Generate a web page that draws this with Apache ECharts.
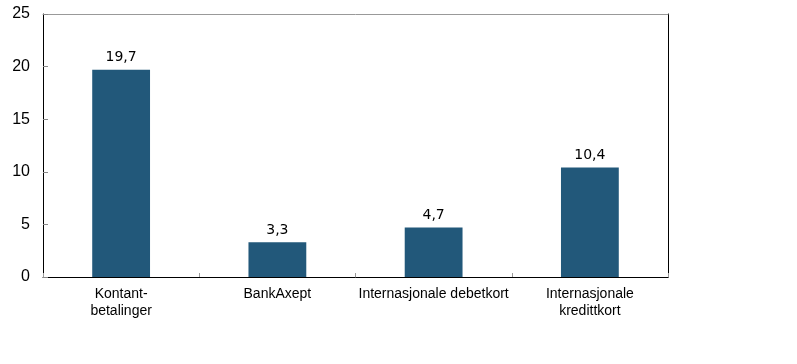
<!DOCTYPE html>
<html><head><meta charset="utf-8">
<script src="https://cdn.jsdelivr.net/npm/echarts@6/dist/echarts.min.js"></script>
<style>html,body{margin:0;padding:0;background:#fff}#c{width:797px;height:364px}</style>
</head><body><div id="c"></div>
<script>
const categories = ['Kontant-\nbetalinger', 'BankAxept', 'Internasjonale debetkort', 'Internasjonale\nkredittkort'];
const values = [19.7, 3.3, 4.7, 10.4];
const yTicks = [0, 5, 10, 15, 20, 25];

const chart = echarts.init(document.getElementById('c'));
chart.setOption({
  animation: false,
  grid: { left: 43, right: 129, top: 14, bottom: 87, containLabel: false },
  xAxis: [{
    type: 'category', data: categories,
    axisLine: { onZero: false, lineStyle: { color: '#000', width: 1 } },
    axisTick: { show: true, inside: true, length: 4, lineStyle: { color: '#999' } },
    axisLabel: { color: '#000', fontFamily: 'Liberation Sans, Arial', fontSize: 14, lineHeight: 17, margin: 9, interval: 0 }
  }, {
    type: 'category', data: categories, position: 'top',
    axisLine: { show: true, onZero: false, lineStyle: { color: '#999' } }, axisTick: { show: false }, axisLabel: { show: false }
  }],
  yAxis: [{
    type: 'value', min: 0, max: 25, interval: 5,
    axisLine: { show: true, onZero: false, lineStyle: { color: '#000' } },
    axisTick: { show: true, inside: true, length: 5, lineStyle: { color: '#888' } },
    splitLine: { show: false },
    axisLabel: { color: '#000', fontFamily: 'Liberation Sans, Arial', fontSize: 16, margin: 13,
      formatter: v => yTicks.includes(v) ? String(v) : '' }
  }, {
    type: 'value', min: 0, max: 25, interval: 5, position: 'right',
    axisLine: { show: true, onZero: false, lineStyle: { color: '#000' } },
    axisTick: { show: false }, axisLabel: { show: false }, splitLine: { show: false }
  }],
  series: [{
    type: 'bar', data: values, barWidth: '37%',
    itemStyle: { color: '#22587a' },
    label: { show: true, position: 'top', distance: 5, color: '#000', fontFamily: 'DejaVu Sans, Verdana', fontSize: 14,
      formatter: p => String(p.value).replace('.', ',') }
  }]
});
</script></body></html>
